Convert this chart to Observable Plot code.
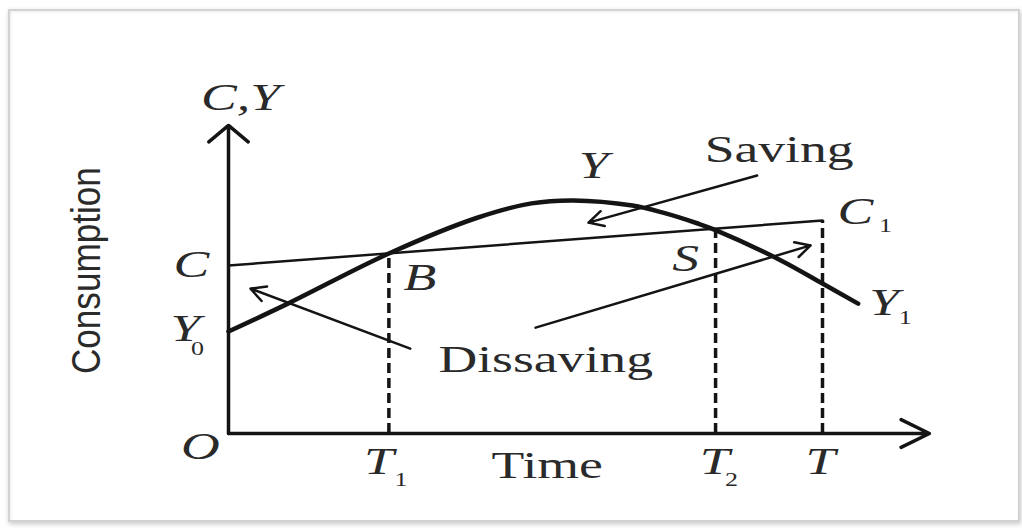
<!DOCTYPE html>
<html>
<head>
<meta charset="utf-8">
<script src="https://cdn.jsdelivr.net/npm/d3@7"></script>
<script src="https://cdn.jsdelivr.net/npm/@observablehq/plot@0.6"></script>
<style>
  html, body { margin: 0; padding: 0; background: #fff; }
  #wrap { position: relative; width: 1022px; height: 530px; overflow: hidden; }
  #frame {
    position: absolute; left: 8px; top: 9px; width: 1008px; height: 509px;
    border: 2px solid #d3d3d3;
    box-shadow: 1px 2px 5px rgba(0,0,0,0.22), inset 1px 1px 3px rgba(0,0,0,0.08);
  }
  #chart { position: absolute; left: 0; top: 0; }
</style>
</head>
<body>
<div id="wrap"><div id="frame"></div><div id="chart"></div></div>
<script>
// Life-cycle hypothesis: income Y rises and falls over a lifetime,
// while consumption C grows slowly and steadily from C to C1.

// time marks
const T1 = 27, T2 = 82, T = 100;
// levels on the vertical axis
const Y0 = 34, C0 = 56, C1 = 71;
// extent of the drawn axes
const xAxisEnd = 118, yAxisEnd = 102.7;

// income curve Y
const incomeTime = [0, 10, 27, 42, 51, 58, 68, 73, 79, 82, 93, 100, 106];
const incomeY    = [Y0, 43.3, 60, 72, 76.7, 77.7, 76, 73.7, 70, 67.8, 57.7, 50, 43.3];

// consumption line C -> C1
const consumptionTime = [0, T];
const consumptionC    = [C0, C1];

// annotation arrows (start -> end)
const arrowName  = ["Saving", "Dissaving", "Dissaving"];
const arrowFromX = [89, 30.6, 51.7];
const arrowFromY = [86, 28.3, 35.3];
const arrowToX   = [60.6, 3.7, 98];
const arrowToY   = [70.3, 48.3, 62.7];

// vertical guides at T1, T2, T up to the consumption line
const guideTime = [T1, T2, T];
const consumptionAt = t => C0 + (C1 - C0) * t / T;

const income = incomeTime.map((t, i) => ({t, y: incomeY[i]}));
const consumption = consumptionTime.map((t, i) => ({t, c: consumptionC[i]}));
const arrows = arrowName.map((name, i) => ({
  name, x1: arrowFromX[i], y1: arrowFromY[i], x2: arrowToX[i], y2: arrowToY[i]
}));
const guides = guideTime.map(t => ({t, top: consumptionAt(t)}));

const serif = "'Liberation Serif', 'Times New Roman', serif";
const ink = "#141414";
const textInk = "#2a2a2a";

// italic letter labels, with optional subscripts
const letters = [
  {text: "C,Y", x: 0, y: yAxisEnd, dx: 12, dy: -27},
  {text: "Y", x: 61.8, y: 89.3, dx: -2, dy: 1},
  {text: "C", x: 0, y: C0, dx: -37, dy: 0},
  {text: "Y", x: 0, y: Y0, dx: -43, dy: -2},
  {text: "B", x: T1, y: consumptionAt(T1), dx: 31, dy: 25},
  {text: "S", x: T2, y: consumptionAt(T2), dx: -30, dy: 31},
  {text: "C", x: T, y: C1, dx: 33, dy: -8},
  {text: "Y", x: incomeTime.at(-1), y: incomeY.at(-1), dx: 26, dy: 0},
  {text: "O", x: 0, y: 0, dx: -28, dy: 14},
  {text: "T", x: T1, y: 0, dx: -10, dy: 29},
  {text: "T", x: T2, y: 0, dx: -1, dy: 29},
  {text: "T", x: T, y: 0, dx: -2, dy: 29}
];
const subs = [
  {text: "0", x: 0, y: Y0, dx: -31, dy: 18},
  {text: "1", x: T, y: C1, dx: 63, dy: 6},
  {text: "1", x: incomeTime.at(-1), y: incomeY.at(-1), dx: 47, dy: 15},
  {text: "1", x: T1, y: 0, dx: 12, dy: 47},
  {text: "2", x: T2, y: 0, dx: 16, dy: 47}
];
const words = [
  {text: "Saving", x: arrowFromX[0], y: arrowFromY[0], dx: 22, dy: -25},
  {text: "Dissaving", x: 53.4, y: 24.3, dx: 0, dy: 0},
  {text: "Time", x: (T1 + T2) / 2, y: 0, dx: -5, dy: 33}
];

const plot = Plot.plot({
  width: 1022,
  height: 530,
  x: {domain: [0, 120], range: [228, 228 + 120 * 5.94], axis: null},
  y: {domain: [0, 110], range: [433, 433 - 330], axis: null},
  style: {background: "none", overflow: "visible"},
  marks: [
    // axes
    Plot.arrow([0], {x1: 0, y1: 0, x2: 0, y2: yAxisEnd, stroke: ink, strokeWidth: 3.5, headLength: 11, headAngle: 100}),
    Plot.arrow([0], {x1: 0, y1: 0, x2: xAxisEnd, y2: 0, stroke: ink, strokeWidth: 3.5, headLength: 13.5, headAngle: 52}),
    // dashed guides
    Plot.ruleX(guides, {x: "t", y1: 0, y2: "top", stroke: ink, strokeWidth: 3.5, strokeDasharray: "10,5"}),
    // consumption
    Plot.line(consumption, {x: "t", y: "c", stroke: ink, strokeWidth: 2.5}),
    // income
    Plot.line(income, {x: "t", y: "y", stroke: ink, strokeWidth: 4.5, curve: "catmull-rom"}),
    // annotation arrows
    Plot.arrow(arrows, {x1: "x1", y1: "y1", x2: "x2", y2: "y2", stroke: ink, strokeWidth: 2.5, headLength: 10, headAngle: 55}),
    // labels
    Plot.text(letters, {x: "x", y: "y", text: "text", fill: textInk, fontFamily: serif, fontStyle: "italic", fontSize: 37}),
    Plot.text(subs, {x: "x", y: "y", text: "text", fill: textInk, fontFamily: serif, fontSize: 18}),
    Plot.text(words, {x: "x", y: "y", text: "text", fill: textInk, fontFamily: serif, fontSize: 37}),
    Plot.text(["Consumption"], {x: 0, y: 54.3, text: d => d, dx: -141, rotate: -90, fill: textInk,
      fontFamily: "'Liberation Sans', Arial, sans-serif", fontSize: 40})
  ]
});

document.getElementById("chart").append(plot);

// per-label pixel offsets
const textGroups = plot.querySelectorAll("g[aria-label='text']");
[letters, subs, words].forEach((rows, gi) => {
  textGroups[gi].querySelectorAll("text").forEach((node, i) => {
    const r = rows[i];
    const prev = node.getAttribute("transform") || "";
    node.setAttribute("transform", `${prev} translate(${r.dx},${r.dy})`);
  });
});

// the serif lettering is set wide; the axis title is set narrow
plot.querySelectorAll("text").forEach(node => {
  const w = node.getComputedTextLength();
  const len = node.textContent === "Consumption" ? 207 : w * 1.45;
  node.setAttribute("textLength", len.toFixed(1));
  node.setAttribute("lengthAdjust", "spacingAndGlyphs");
});
</script>
</body>
</html>
